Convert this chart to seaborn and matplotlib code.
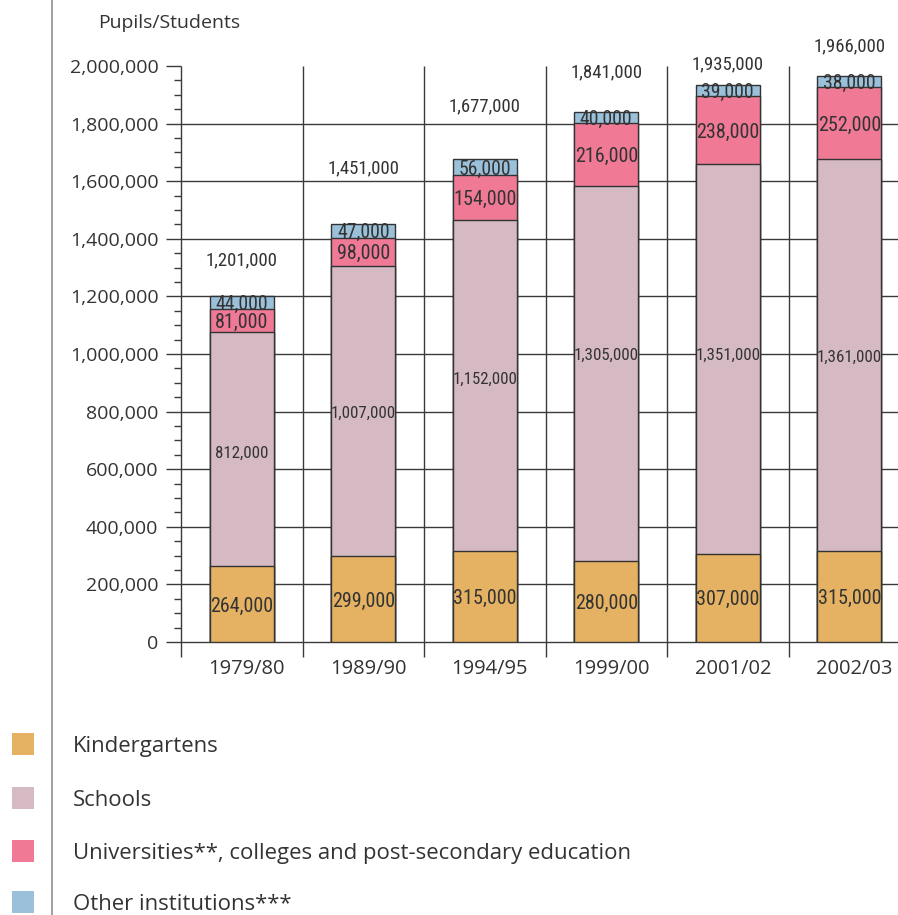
import matplotlib
matplotlib.use("Agg")
import matplotlib.pyplot as plt
import matplotlib.transforms as mtransforms
import numpy as np
import seaborn as sns
from matplotlib import font_manager
from matplotlib.font_manager import FontProperties
from matplotlib.lines import Line2D
from matplotlib.patches import Rectangle
from matplotlib.ticker import FuncFormatter, MultipleLocator

# Pupils and students by type of institution
years = ["1979/80", "1989/90", "1994/95", "1999/00", "2001/02", "2002/03"]
kindergartens = [264000, 299000, 315000, 280000, 307000, 315000]
schools = [812000, 1007000, 1152000, 1305000, 1351000, 1361000]
universities = [81000, 98000, 154000, 216000, 238000, 252000]
other_institutions = [44000, 47000, 56000, 40000, 39000, 38000]
totals = [1201000, 1451000, 1677000, 1841000, 1935000, 1966000]

series_names = [
    "Kindergartens",
    "Schools",
    "Universities**, colleges and post-secondary education",
    "Other institutions***",
]
series_colors = ["#E5B263", "#D5BAC4", "#F07A96", "#9BC0DA"]

# where the total and school labels sit (data units)
total_label_at = [1333000, 1653000, 1868000, 1986000, 2014000, 2076000]
school_label_at = [660000, 799000, 917000, 1000000, 1000000, 993000]

sns.set_theme(style="white")
plt.rcParams["font.family"] = ["Open Sans", "DejaVu Sans"]


def condensed_font():
    """Pick a narrow face for the figures printed on the bars."""
    fonts = font_manager.fontManager.ttflist
    names = {f.name for f in fonts}
    for fam in ("Liberation Sans Narrow", "Roboto Condensed", "Open Sans Condensed",
                "Noto Sans Condensed", "DejaVu Sans Condensed"):
        if fam in names:
            return FontProperties(family=fam), 1.0
    for f in fonts:
        if f.stretch in ("condensed", "semi-condensed", "extra-condensed") and \
                f.style == "normal" and f.weight in (400, "normal", "regular"):
            return FontProperties(fname=f.fname), 1.0
    return FontProperties(family="Roboto"), 0.85


narrow_fp, narrow_scale = condensed_font()


def narrow(size):
    fp = narrow_fp.copy()
    fp.set_size(size * narrow_scale)
    return fp


INK = "#333333"
GRID = "#3a3a3a"

W, H = 898, 915
fig = plt.figure(figsize=(W / 100, H / 100), dpi=100)
fig.patch.set_facecolor("white")

x0, y0, ytop, step = 181, 642, 66, 121.5
ax = fig.add_axes([x0 / W, (H - y0) / H, (W - x0) / W, (y0 - ytop) / H])
ax.set_facecolor("none")

# stacked bars: draw cumulative heights from the top layer down
layers = np.cumsum(
    np.array([kindergartens, schools, universities, other_institutions]), axis=0
)
for i in reversed(range(4)):
    sns.barplot(
        x=years, y=layers[i], color=series_colors[i], saturation=1,
        width=0.527, edgecolor=INK, linewidth=1.0, errorbar=None,
        ax=ax, zorder=3,
    )

xmax = (W - x0) / step - 0.5
ax.set_xlim(-0.5, xmax)
ax.set_ylim(0, 2000000)

for s in ax.spines.values():
    s.set_visible(False)

# grid: horizontal rules and category separators
ax.hlines(np.arange(0, 2000000, 200000), -0.5, xmax, color=GRID, lw=1.0,
          zorder=1, clip_on=False)
ax.vlines(np.arange(-0.5, 5.0, 1.0), -52000, 2000000, color=GRID, lw=1.0,
          zorder=1, clip_on=False)

ax.yaxis.set_major_locator(MultipleLocator(200000))
ax.yaxis.set_minor_locator(MultipleLocator(50000))
ax.yaxis.set_major_formatter(FuncFormatter(lambda v, p: f"{int(v):,}"))
ax.tick_params(axis="y", which="major", direction="out", length=10.8, width=1.0,
               color=GRID, labelsize=14, labelcolor=INK, pad=5.5, left=True)
ax.tick_params(axis="y", which="minor", direction="out", length=5.2, width=1.0,
               color=GRID, left=True)

ax.set_xticks(range(len(years)))
ax.set_xticklabels(years)
ax.tick_params(axis="x", length=0, labelsize=14.5, labelcolor=INK, pad=12)
shift = mtransforms.ScaledTranslation(5 / 100, 0, fig.dpi_scale_trans)
for lab in ax.get_xticklabels():
    lab.set_transform(lab.get_transform() + shift)
ax.set_xlabel("")
ax.set_ylabel("")

# segment labels
bottoms = np.vstack([np.zeros(len(years)), layers[:-1]])
for j in range(len(years)):
    ax.text(j, kindergartens[j] / 2, f"{kindergartens[j]:,}", ha="center",
            va="center_baseline", fontproperties=narrow(14.5), color=INK, zorder=5)
    ax.text(j, school_label_at[j], f"{schools[j]:,}", ha="center",
            va="center_baseline", fontproperties=narrow(12.2), color=INK, zorder=5)
    ax.text(j, bottoms[2][j] + universities[j] / 2, f"{universities[j]:,}",
            ha="center", va="center_baseline", fontproperties=narrow(14.5),
            color=INK, zorder=5)
    ax.text(j, bottoms[3][j] + other_institutions[j] / 2,
            f"{other_institutions[j]:,}", ha="center", va="center_baseline",
            fontproperties=narrow(14.2), color=INK, zorder=5)
    ax.text(j, total_label_at[j], f"{totals[j]:,}", ha="center",
            va="center_baseline", fontproperties=narrow(13.5), color=INK,
            zorder=5, clip_on=False)

# axis caption
fig.text(98 / W, 1 - 23 / H, "Pupils/Students", ha="left", va="center",
         size=14, color=INK)

# left margin rule
fig.add_artist(Line2D([52 / W, 52 / W], [0, 1], transform=fig.transFigure,
                      color="#8f8f8f", lw=1.2))

# legend
legend_y = [744, 798, 851, 902]
for name, col, yc in zip(series_names, series_colors, legend_y):
    fig.add_artist(Rectangle((12 / W, 1 - (yc + 11) / H), 22 / W, 22 / H,
                             transform=fig.transFigure, facecolor=col,
                             edgecolor="none"))
    fig.text(73 / W, 1 - yc / H, name, ha="left", va="center_baseline",
             size=15.9, color=INK)

fig.savefig("out.png", dpi=100, facecolor="white")
